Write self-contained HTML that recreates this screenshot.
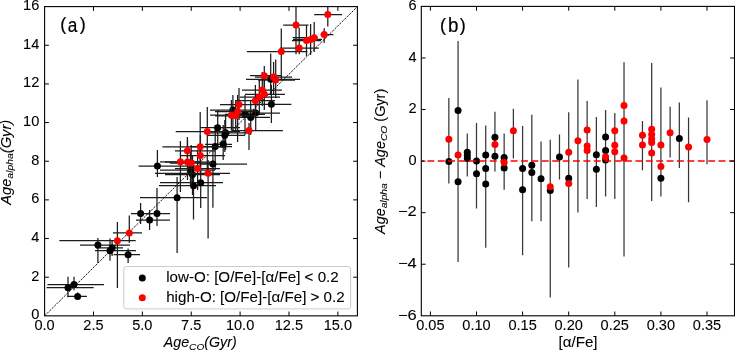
<!DOCTYPE html>
<html><head><meta charset="utf-8"><title>Age comparison</title>
<style>
html,body{margin:0;padding:0;background:#fff;}
body{width:735px;height:350px;overflow:hidden;}
svg{display:block;font-family:"Liberation Sans",sans-serif;will-change:transform;}
text{fill:#000;stroke:#000;stroke-width:0.08px;}
</style></head><body>
<svg width="735" height="350" viewBox="0 0 735 350">
<defs>
<clipPath id="cl"><rect x="44.6" y="6.6" width="312.8" height="309.25"/></clipPath>
<clipPath id="cr"><rect x="421.3" y="6.4" width="313.2" height="309.4"/></clipPath>
</defs>
<rect width="735" height="350" fill="#fff"/>
<g clip-path="url(#cl)">
<line x1="44.6" y1="315.85" x2="357.4" y2="6.6" stroke="#1a1a1a" stroke-width="1.0" stroke-dasharray="2.3 1.1"/>
<line x1="46.6" y1="287.7" x2="93.7" y2="287.7" stroke="#1c1c1c" stroke-width="1.25"/>
<line x1="68" y1="276.8" x2="68" y2="297.3" stroke="#1c1c1c" stroke-width="1.25"/>
<line x1="47.4" y1="284.6" x2="104" y2="284.6" stroke="#1c1c1c" stroke-width="1.25"/>
<line x1="74" y1="276.8" x2="74" y2="290.2" stroke="#1c1c1c" stroke-width="1.25"/>
<line x1="67.2" y1="296.4" x2="86.9" y2="296.4" stroke="#1c1c1c" stroke-width="1.25"/>
<line x1="77.6" y1="292.5" x2="77.6" y2="299" stroke="#1c1c1c" stroke-width="1.25"/>
<line x1="80" y1="245" x2="130" y2="245" stroke="#1c1c1c" stroke-width="1.25"/>
<line x1="97.9" y1="237.9" x2="97.9" y2="262.9" stroke="#1c1c1c" stroke-width="1.25"/>
<line x1="95" y1="250.7" x2="136" y2="250.7" stroke="#1c1c1c" stroke-width="1.25"/>
<line x1="110" y1="238.6" x2="110" y2="260.7" stroke="#1c1c1c" stroke-width="1.25"/>
<line x1="96" y1="247.9" x2="123" y2="247.9" stroke="#1c1c1c" stroke-width="1.25"/>
<line x1="112.1" y1="240" x2="112.1" y2="256" stroke="#1c1c1c" stroke-width="1.25"/>
<line x1="113.6" y1="254.7" x2="140" y2="254.7" stroke="#1c1c1c" stroke-width="1.25"/>
<line x1="128.1" y1="248.6" x2="128.1" y2="262.9" stroke="#1c1c1c" stroke-width="1.25"/>
<line x1="131" y1="213.6" x2="152" y2="213.6" stroke="#1c1c1c" stroke-width="1.25"/>
<line x1="140.6" y1="203" x2="140.6" y2="224" stroke="#1c1c1c" stroke-width="1.25"/>
<line x1="146" y1="213.6" x2="170" y2="213.6" stroke="#1c1c1c" stroke-width="1.25"/>
<line x1="157" y1="188" x2="157" y2="226" stroke="#1c1c1c" stroke-width="1.25"/>
<line x1="136" y1="220" x2="170" y2="220" stroke="#1c1c1c" stroke-width="1.25"/>
<line x1="149.6" y1="210" x2="149.6" y2="230" stroke="#1c1c1c" stroke-width="1.25"/>
<line x1="138.6" y1="166" x2="201" y2="166" stroke="#1c1c1c" stroke-width="1.25"/>
<line x1="157.4" y1="150" x2="157.4" y2="177" stroke="#1c1c1c" stroke-width="1.25"/>
<line x1="140" y1="197.7" x2="207" y2="197.7" stroke="#1c1c1c" stroke-width="1.25"/>
<line x1="177.1" y1="177" x2="177.1" y2="252.9" stroke="#1c1c1c" stroke-width="1.25"/>
<line x1="160" y1="170" x2="215" y2="170" stroke="#1c1c1c" stroke-width="1.25"/>
<line x1="190.5" y1="150" x2="190.5" y2="185" stroke="#1c1c1c" stroke-width="1.25"/>
<line x1="165" y1="174.5" x2="220" y2="174.5" stroke="#1c1c1c" stroke-width="1.25"/>
<line x1="192.5" y1="155" x2="192.5" y2="195" stroke="#1c1c1c" stroke-width="1.25"/>
<line x1="160" y1="182.7" x2="223" y2="182.7" stroke="#1c1c1c" stroke-width="1.25"/>
<line x1="200.7" y1="160" x2="200.7" y2="208" stroke="#1c1c1c" stroke-width="1.25"/>
<line x1="159" y1="185.7" x2="216" y2="185.7" stroke="#1c1c1c" stroke-width="1.25"/>
<line x1="193.5" y1="160" x2="193.5" y2="219.4" stroke="#1c1c1c" stroke-width="1.25"/>
<line x1="200" y1="164.1" x2="247" y2="164.1" stroke="#1c1c1c" stroke-width="1.25"/>
<line x1="212.9" y1="145" x2="212.9" y2="207.7" stroke="#1c1c1c" stroke-width="1.25"/>
<line x1="190" y1="146.6" x2="232" y2="146.6" stroke="#1c1c1c" stroke-width="1.25"/>
<line x1="215.2" y1="125" x2="215.2" y2="170" stroke="#1c1c1c" stroke-width="1.25"/>
<line x1="200" y1="127.7" x2="240" y2="127.7" stroke="#1c1c1c" stroke-width="1.25"/>
<line x1="217.7" y1="110" x2="217.7" y2="145" stroke="#1c1c1c" stroke-width="1.25"/>
<line x1="205" y1="132.8" x2="250" y2="132.8" stroke="#1c1c1c" stroke-width="1.25"/>
<line x1="225.6" y1="115" x2="225.6" y2="150" stroke="#1c1c1c" stroke-width="1.25"/>
<line x1="208" y1="135.3" x2="245" y2="135.3" stroke="#1c1c1c" stroke-width="1.25"/>
<line x1="224.8" y1="120" x2="224.8" y2="152" stroke="#1c1c1c" stroke-width="1.25"/>
<line x1="205" y1="144.3" x2="232" y2="144.3" stroke="#1c1c1c" stroke-width="1.25"/>
<line x1="223.2" y1="125" x2="223.2" y2="160" stroke="#1c1c1c" stroke-width="1.25"/>
<line x1="210" y1="110" x2="255" y2="110" stroke="#1c1c1c" stroke-width="1.25"/>
<line x1="232.9" y1="95" x2="232.9" y2="130" stroke="#1c1c1c" stroke-width="1.25"/>
<line x1="225" y1="114.3" x2="265" y2="114.3" stroke="#1c1c1c" stroke-width="1.25"/>
<line x1="245" y1="95" x2="245" y2="135" stroke="#1c1c1c" stroke-width="1.25"/>
<line x1="230" y1="117.4" x2="270" y2="117.4" stroke="#1c1c1c" stroke-width="1.25"/>
<line x1="250.7" y1="100" x2="250.7" y2="135" stroke="#1c1c1c" stroke-width="1.25"/>
<line x1="235" y1="113.1" x2="280" y2="113.1" stroke="#1c1c1c" stroke-width="1.25"/>
<line x1="255.7" y1="95" x2="255.7" y2="130" stroke="#1c1c1c" stroke-width="1.25"/>
<line x1="254.3" y1="104.3" x2="291.4" y2="104.3" stroke="#1c1c1c" stroke-width="1.25"/>
<line x1="271.4" y1="85" x2="271.4" y2="122.9" stroke="#1c1c1c" stroke-width="1.25"/>
<line x1="246" y1="79.3" x2="300" y2="79.3" stroke="#1c1c1c" stroke-width="1.25"/>
<line x1="270.7" y1="53.4" x2="270.7" y2="95" stroke="#1c1c1c" stroke-width="1.25"/>
<circle cx="68" cy="287.7" r="3.5" fill="#000"/>
<circle cx="74" cy="284.6" r="3.5" fill="#000"/>
<circle cx="77.6" cy="296.4" r="3.5" fill="#000"/>
<circle cx="97.9" cy="245" r="3.5" fill="#000"/>
<circle cx="110" cy="250.7" r="3.5" fill="#000"/>
<circle cx="112.1" cy="247.9" r="3.5" fill="#000"/>
<circle cx="128.1" cy="254.7" r="3.5" fill="#000"/>
<circle cx="140.6" cy="213.6" r="3.5" fill="#000"/>
<circle cx="157" cy="213.6" r="3.5" fill="#000"/>
<circle cx="149.6" cy="220" r="3.5" fill="#000"/>
<circle cx="157.4" cy="166" r="3.5" fill="#000"/>
<circle cx="177.1" cy="197.7" r="3.5" fill="#000"/>
<circle cx="190.5" cy="170" r="3.5" fill="#000"/>
<circle cx="192.5" cy="174.5" r="3.5" fill="#000"/>
<circle cx="200.7" cy="182.7" r="3.5" fill="#000"/>
<circle cx="193.5" cy="185.7" r="3.5" fill="#000"/>
<circle cx="212.9" cy="164.1" r="3.5" fill="#000"/>
<circle cx="215.2" cy="146.6" r="3.5" fill="#000"/>
<circle cx="217.7" cy="127.7" r="3.5" fill="#000"/>
<circle cx="225.6" cy="132.8" r="3.5" fill="#000"/>
<circle cx="224.8" cy="135.3" r="3.5" fill="#000"/>
<circle cx="223.2" cy="144.3" r="3.5" fill="#000"/>
<circle cx="232.9" cy="110" r="3.5" fill="#000"/>
<circle cx="245" cy="114.3" r="3.5" fill="#000"/>
<circle cx="250.7" cy="117.4" r="3.5" fill="#000"/>
<circle cx="255.7" cy="113.1" r="3.5" fill="#000"/>
<circle cx="271.4" cy="104.3" r="3.5" fill="#000"/>
<circle cx="270.7" cy="79.3" r="3.5" fill="#000"/>
<line x1="59.4" y1="240.7" x2="135.7" y2="240.7" stroke="#1c1c1c" stroke-width="1.25"/>
<line x1="117.4" y1="222" x2="117.4" y2="288" stroke="#1c1c1c" stroke-width="1.25"/>
<line x1="112.9" y1="232.9" x2="142" y2="232.9" stroke="#1c1c1c" stroke-width="1.25"/>
<line x1="129.3" y1="215.6" x2="129.3" y2="242.9" stroke="#1c1c1c" stroke-width="1.25"/>
<line x1="160" y1="161.8" x2="200" y2="161.8" stroke="#1c1c1c" stroke-width="1.25"/>
<line x1="180.4" y1="141" x2="180.4" y2="192" stroke="#1c1c1c" stroke-width="1.25"/>
<line x1="165" y1="162" x2="210" y2="162" stroke="#1c1c1c" stroke-width="1.25"/>
<line x1="187.5" y1="140" x2="187.5" y2="180" stroke="#1c1c1c" stroke-width="1.25"/>
<line x1="170" y1="163" x2="215" y2="163" stroke="#1c1c1c" stroke-width="1.25"/>
<line x1="191.2" y1="145" x2="191.2" y2="185" stroke="#1c1c1c" stroke-width="1.25"/>
<line x1="175" y1="150.8" x2="215" y2="150.8" stroke="#1c1c1c" stroke-width="1.25"/>
<line x1="187.4" y1="137" x2="187.4" y2="165" stroke="#1c1c1c" stroke-width="1.25"/>
<line x1="162.4" y1="146.8" x2="225" y2="146.8" stroke="#1c1c1c" stroke-width="1.25"/>
<line x1="200.2" y1="112" x2="200.2" y2="165" stroke="#1c1c1c" stroke-width="1.25"/>
<line x1="180" y1="155.6" x2="225" y2="155.6" stroke="#1c1c1c" stroke-width="1.25"/>
<line x1="200.4" y1="135" x2="200.4" y2="175" stroke="#1c1c1c" stroke-width="1.25"/>
<line x1="175" y1="168.6" x2="220" y2="168.6" stroke="#1c1c1c" stroke-width="1.25"/>
<line x1="197.6" y1="150" x2="197.6" y2="190" stroke="#1c1c1c" stroke-width="1.25"/>
<line x1="155" y1="173.3" x2="230" y2="173.3" stroke="#1c1c1c" stroke-width="1.25"/>
<line x1="208.1" y1="160" x2="208.1" y2="238.6" stroke="#1c1c1c" stroke-width="1.25"/>
<line x1="175.7" y1="131.5" x2="240" y2="131.5" stroke="#1c1c1c" stroke-width="1.25"/>
<line x1="207.3" y1="107" x2="207.3" y2="174" stroke="#1c1c1c" stroke-width="1.25"/>
<line x1="231.4" y1="130.5" x2="282.9" y2="130.5" stroke="#1c1c1c" stroke-width="1.25"/>
<line x1="249" y1="122.9" x2="249" y2="150" stroke="#1c1c1c" stroke-width="1.25"/>
<line x1="210" y1="115.2" x2="250" y2="115.2" stroke="#1c1c1c" stroke-width="1.25"/>
<line x1="231.4" y1="100" x2="231.4" y2="130" stroke="#1c1c1c" stroke-width="1.25"/>
<line x1="215" y1="115.8" x2="255" y2="115.8" stroke="#1c1c1c" stroke-width="1.25"/>
<line x1="235.7" y1="100" x2="235.7" y2="132" stroke="#1c1c1c" stroke-width="1.25"/>
<line x1="215" y1="111.5" x2="260" y2="111.5" stroke="#1c1c1c" stroke-width="1.25"/>
<line x1="237.6" y1="95" x2="237.6" y2="142" stroke="#1c1c1c" stroke-width="1.25"/>
<line x1="220" y1="104.5" x2="260" y2="104.5" stroke="#1c1c1c" stroke-width="1.25"/>
<line x1="239" y1="88" x2="239" y2="120" stroke="#1c1c1c" stroke-width="1.25"/>
<line x1="235" y1="100.7" x2="275" y2="100.7" stroke="#1c1c1c" stroke-width="1.25"/>
<line x1="255.4" y1="85" x2="255.4" y2="117" stroke="#1c1c1c" stroke-width="1.25"/>
<line x1="240" y1="97.1" x2="280" y2="97.1" stroke="#1c1c1c" stroke-width="1.25"/>
<line x1="259.3" y1="80" x2="259.3" y2="115" stroke="#1c1c1c" stroke-width="1.25"/>
<line x1="245" y1="94.3" x2="285" y2="94.3" stroke="#1c1c1c" stroke-width="1.25"/>
<line x1="264.3" y1="78" x2="264.3" y2="110" stroke="#1c1c1c" stroke-width="1.25"/>
<line x1="242" y1="90" x2="282" y2="90" stroke="#1c1c1c" stroke-width="1.25"/>
<line x1="262.3" y1="72" x2="262.3" y2="106" stroke="#1c1c1c" stroke-width="1.25"/>
<line x1="250" y1="75.7" x2="282" y2="75.7" stroke="#1c1c1c" stroke-width="1.25"/>
<line x1="264.3" y1="66" x2="264.3" y2="92" stroke="#1c1c1c" stroke-width="1.25"/>
<line x1="255" y1="77.1" x2="292" y2="77.1" stroke="#1c1c1c" stroke-width="1.25"/>
<line x1="273.6" y1="62" x2="273.6" y2="95" stroke="#1c1c1c" stroke-width="1.25"/>
<line x1="258" y1="80" x2="295" y2="80" stroke="#1c1c1c" stroke-width="1.25"/>
<line x1="275.7" y1="59.4" x2="275.7" y2="98" stroke="#1c1c1c" stroke-width="1.25"/>
<line x1="246.9" y1="51.6" x2="307.4" y2="51.6" stroke="#1c1c1c" stroke-width="1.25"/>
<line x1="281.3" y1="28.6" x2="281.3" y2="80" stroke="#1c1c1c" stroke-width="1.25"/>
<line x1="283.2" y1="25.1" x2="308.5" y2="25.1" stroke="#1c1c1c" stroke-width="1.25"/>
<line x1="296" y1="6.8" x2="296" y2="54.2" stroke="#1c1c1c" stroke-width="1.25"/>
<line x1="280" y1="48" x2="318.8" y2="48" stroke="#1c1c1c" stroke-width="1.25"/>
<line x1="299.2" y1="27.4" x2="299.2" y2="54.2" stroke="#1c1c1c" stroke-width="1.25"/>
<line x1="292" y1="40.5" x2="321" y2="40.5" stroke="#1c1c1c" stroke-width="1.25"/>
<line x1="306.5" y1="25" x2="306.5" y2="56" stroke="#1c1c1c" stroke-width="1.25"/>
<line x1="293" y1="39.4" x2="322" y2="39.4" stroke="#1c1c1c" stroke-width="1.25"/>
<line x1="310.6" y1="24" x2="310.6" y2="55" stroke="#1c1c1c" stroke-width="1.25"/>
<line x1="292.6" y1="37.7" x2="317.7" y2="37.7" stroke="#1c1c1c" stroke-width="1.25"/>
<line x1="314.2" y1="22" x2="314.2" y2="52" stroke="#1c1c1c" stroke-width="1.25"/>
<line x1="320.6" y1="34.6" x2="333.4" y2="34.6" stroke="#1c1c1c" stroke-width="1.25"/>
<line x1="324.2" y1="28.3" x2="324.2" y2="42.9" stroke="#1c1c1c" stroke-width="1.25"/>
<line x1="314.2" y1="14.6" x2="342" y2="14.6" stroke="#1c1c1c" stroke-width="1.25"/>
<line x1="327.8" y1="6.8" x2="327.8" y2="26.6" stroke="#1c1c1c" stroke-width="1.25"/>
<circle cx="117.4" cy="240.7" r="3.5" fill="#ff0000"/>
<circle cx="129.3" cy="232.9" r="3.5" fill="#ff0000"/>
<circle cx="180.4" cy="161.8" r="3.5" fill="#ff0000"/>
<circle cx="187.5" cy="162" r="3.5" fill="#ff0000"/>
<circle cx="191.2" cy="163" r="3.5" fill="#ff0000"/>
<circle cx="187.4" cy="150.8" r="3.5" fill="#ff0000"/>
<circle cx="200.2" cy="146.8" r="3.5" fill="#ff0000"/>
<circle cx="200.4" cy="155.6" r="3.5" fill="#ff0000"/>
<circle cx="197.6" cy="168.6" r="3.5" fill="#ff0000"/>
<circle cx="208.1" cy="173.3" r="3.5" fill="#ff0000"/>
<circle cx="207.3" cy="131.5" r="3.5" fill="#ff0000"/>
<circle cx="249" cy="130.5" r="3.5" fill="#ff0000"/>
<circle cx="231.4" cy="115.2" r="3.5" fill="#ff0000"/>
<circle cx="235.7" cy="115.8" r="3.5" fill="#ff0000"/>
<circle cx="237.6" cy="111.5" r="3.5" fill="#ff0000"/>
<circle cx="239" cy="104.5" r="3.5" fill="#ff0000"/>
<circle cx="255.4" cy="100.7" r="3.5" fill="#ff0000"/>
<circle cx="259.3" cy="97.1" r="3.5" fill="#ff0000"/>
<circle cx="264.3" cy="94.3" r="3.5" fill="#ff0000"/>
<circle cx="262.3" cy="90" r="3.5" fill="#ff0000"/>
<circle cx="264.3" cy="75.7" r="3.5" fill="#ff0000"/>
<circle cx="273.6" cy="77.1" r="3.5" fill="#ff0000"/>
<circle cx="275.7" cy="80" r="3.5" fill="#ff0000"/>
<circle cx="281.3" cy="51.6" r="3.5" fill="#ff0000"/>
<circle cx="296" cy="25.1" r="3.5" fill="#ff0000"/>
<circle cx="299.2" cy="48" r="3.5" fill="#ff0000"/>
<circle cx="306.5" cy="40.5" r="3.5" fill="#ff0000"/>
<circle cx="310.6" cy="39.4" r="3.5" fill="#ff0000"/>
<circle cx="314.2" cy="37.7" r="3.5" fill="#ff0000"/>
<circle cx="324.2" cy="34.6" r="3.5" fill="#ff0000"/>
<circle cx="327.8" cy="14.6" r="3.5" fill="#ff0000"/>
</g>
<g clip-path="url(#cr)">
<line x1="448.84" y1="98" x2="448.84" y2="183.5" stroke="#383838" stroke-width="1.25"/>
<line x1="458.06" y1="41.1" x2="458.06" y2="262" stroke="#383838" stroke-width="1.25"/>
<line x1="467.28" y1="133.4" x2="467.28" y2="176.5" stroke="#383838" stroke-width="1.25"/>
<line x1="476.5" y1="123.1" x2="476.5" y2="208.5" stroke="#383838" stroke-width="1.25"/>
<line x1="485.72" y1="125.4" x2="485.72" y2="247.7" stroke="#383838" stroke-width="1.25"/>
<line x1="494.94" y1="111.7" x2="494.94" y2="171.4" stroke="#383838" stroke-width="1.25"/>
<line x1="504.16" y1="133.4" x2="504.16" y2="189.7" stroke="#383838" stroke-width="1.25"/>
<line x1="513.38" y1="108.7" x2="513.38" y2="158.6" stroke="#383838" stroke-width="1.25"/>
<line x1="522.6" y1="126.1" x2="522.6" y2="255.3" stroke="#383838" stroke-width="1.25"/>
<line x1="531.82" y1="114.7" x2="531.82" y2="221.3" stroke="#383838" stroke-width="1.25"/>
<line x1="541.04" y1="141.4" x2="541.04" y2="221.3" stroke="#383838" stroke-width="1.25"/>
<line x1="550.26" y1="139.8" x2="550.26" y2="297.6" stroke="#383838" stroke-width="1.25"/>
<line x1="559.48" y1="134.6" x2="559.48" y2="179.4" stroke="#383838" stroke-width="1.25"/>
<line x1="568.7" y1="112.2" x2="568.7" y2="267.6" stroke="#383838" stroke-width="1.25"/>
<line x1="577.92" y1="79.4" x2="577.92" y2="212.6" stroke="#383838" stroke-width="1.25"/>
<line x1="587.14" y1="101" x2="587.14" y2="198.9" stroke="#383838" stroke-width="1.25"/>
<line x1="596.36" y1="117" x2="596.36" y2="206.9" stroke="#383838" stroke-width="1.25"/>
<line x1="605.58" y1="110.1" x2="605.58" y2="196.6" stroke="#383838" stroke-width="1.25"/>
<line x1="614.8" y1="112.9" x2="614.8" y2="198.9" stroke="#383838" stroke-width="1.25"/>
<line x1="624.02" y1="62.3" x2="624.02" y2="256.5" stroke="#383838" stroke-width="1.25"/>
<line x1="642.46" y1="120.9" x2="642.46" y2="170.3" stroke="#383838" stroke-width="1.25"/>
<line x1="651.68" y1="63" x2="651.68" y2="201.1" stroke="#383838" stroke-width="1.25"/>
<line x1="660.9" y1="87.4" x2="660.9" y2="196.6" stroke="#383838" stroke-width="1.25"/>
<line x1="670.12" y1="106.7" x2="670.12" y2="157.4" stroke="#383838" stroke-width="1.25"/>
<line x1="679.34" y1="102.6" x2="679.34" y2="168" stroke="#383838" stroke-width="1.25"/>
<line x1="688.56" y1="117.4" x2="688.56" y2="202.3" stroke="#383838" stroke-width="1.25"/>
<line x1="707" y1="100.3" x2="707" y2="164.3" stroke="#383838" stroke-width="1.25"/>
<circle cx="448.84" cy="161.5" r="3.5" fill="#000"/>
<circle cx="458.06" cy="110.6" r="3.5" fill="#000"/>
<circle cx="458.06" cy="181.7" r="3.5" fill="#000"/>
<circle cx="467.28" cy="152.2" r="3.5" fill="#000"/>
<circle cx="467.28" cy="155.4" r="3.5" fill="#000"/>
<circle cx="467.28" cy="158.6" r="3.5" fill="#000"/>
<circle cx="476.5" cy="160.9" r="3.5" fill="#000"/>
<circle cx="476.5" cy="173.7" r="3.5" fill="#000"/>
<circle cx="485.72" cy="155.1" r="3.5" fill="#000"/>
<circle cx="485.72" cy="168.5" r="3.5" fill="#000"/>
<circle cx="485.72" cy="184" r="3.5" fill="#000"/>
<circle cx="494.94" cy="137.3" r="3.5" fill="#000"/>
<circle cx="494.94" cy="156.3" r="3.5" fill="#000"/>
<circle cx="504.16" cy="157.4" r="3.5" fill="#000"/>
<circle cx="504.16" cy="168" r="3.5" fill="#000"/>
<circle cx="522.6" cy="168.5" r="3.5" fill="#000"/>
<circle cx="522.6" cy="189.7" r="3.5" fill="#000"/>
<circle cx="531.82" cy="165.2" r="3.5" fill="#000"/>
<circle cx="531.82" cy="172.6" r="3.5" fill="#000"/>
<circle cx="541.04" cy="178.7" r="3.5" fill="#000"/>
<circle cx="550.26" cy="190.4" r="3.5" fill="#000"/>
<circle cx="559.48" cy="157" r="3.5" fill="#000"/>
<circle cx="568.7" cy="178.3" r="3.5" fill="#000"/>
<circle cx="596.36" cy="154.7" r="3.5" fill="#000"/>
<circle cx="596.36" cy="169.3" r="3.5" fill="#000"/>
<circle cx="605.58" cy="136.9" r="3.5" fill="#000"/>
<circle cx="605.58" cy="150.6" r="3.5" fill="#000"/>
<circle cx="605.58" cy="160" r="3.5" fill="#000"/>
<circle cx="660.9" cy="178.3" r="3.5" fill="#000"/>
<circle cx="679.34" cy="138.5" r="3.5" fill="#000"/>
<circle cx="448.84" cy="139.2" r="3.5" fill="#ff0000"/>
<circle cx="458.06" cy="155.1" r="3.5" fill="#ff0000"/>
<circle cx="494.94" cy="144.4" r="3.5" fill="#ff0000"/>
<circle cx="504.16" cy="162.5" r="3.5" fill="#ff0000"/>
<circle cx="513.38" cy="130.7" r="3.5" fill="#ff0000"/>
<circle cx="550.26" cy="186.7" r="3.5" fill="#ff0000"/>
<circle cx="568.7" cy="152.2" r="3.5" fill="#ff0000"/>
<circle cx="568.7" cy="183.5" r="3.5" fill="#ff0000"/>
<circle cx="577.92" cy="140.7" r="3.5" fill="#ff0000"/>
<circle cx="587.14" cy="130" r="3.5" fill="#ff0000"/>
<circle cx="587.14" cy="146" r="3.5" fill="#ff0000"/>
<circle cx="587.14" cy="150.6" r="3.5" fill="#ff0000"/>
<circle cx="605.58" cy="156.7" r="3.5" fill="#ff0000"/>
<circle cx="614.8" cy="130.7" r="3.5" fill="#ff0000"/>
<circle cx="614.8" cy="145.3" r="3.5" fill="#ff0000"/>
<circle cx="614.8" cy="151.7" r="3.5" fill="#ff0000"/>
<circle cx="624.02" cy="105.5" r="3.5" fill="#ff0000"/>
<circle cx="624.02" cy="120.9" r="3.5" fill="#ff0000"/>
<circle cx="624.02" cy="157.9" r="3.5" fill="#ff0000"/>
<circle cx="642.46" cy="135.3" r="3.5" fill="#ff0000"/>
<circle cx="642.46" cy="144.9" r="3.5" fill="#ff0000"/>
<circle cx="651.68" cy="129.3" r="3.5" fill="#ff0000"/>
<circle cx="651.68" cy="134.6" r="3.5" fill="#ff0000"/>
<circle cx="651.68" cy="139.1" r="3.5" fill="#ff0000"/>
<circle cx="651.68" cy="142.6" r="3.5" fill="#ff0000"/>
<circle cx="651.68" cy="152.9" r="3.5" fill="#ff0000"/>
<circle cx="660.9" cy="144.9" r="3.5" fill="#ff0000"/>
<circle cx="660.9" cy="166.5" r="3.5" fill="#ff0000"/>
<circle cx="670.12" cy="132.7" r="3.5" fill="#ff0000"/>
<circle cx="688.56" cy="147.1" r="3.5" fill="#ff0000"/>
<circle cx="707" cy="139.6" r="3.5" fill="#ff0000"/>
<line x1="421.3" y1="161" x2="734.5" y2="161" stroke="#ff0000" stroke-width="1.7" stroke-dasharray="6.9 3.5" stroke-dashoffset="4.3"/>
</g>
<rect x="123.8" y="266.5" width="226.8" height="42.4" rx="2.5" fill="#fff" fill-opacity="0.8" stroke="#cccccc" stroke-width="1"/>
<circle cx="142.3" cy="278" r="3.5" fill="#000"/>
<circle cx="142.3" cy="297.7" r="3.5" fill="#ff0000"/>
<rect x="44.6" y="6.6" width="312.8" height="309.25" fill="none" stroke="#000" stroke-width="1.1"/>
<rect x="421.3" y="6.4" width="313.2" height="309.4" fill="none" stroke="#000" stroke-width="1.1"/>
<line x1="93.47" y1="315.85" x2="93.47" y2="311.55" stroke="#000" stroke-width="1"/>
<line x1="93.47" y1="6.6" x2="93.47" y2="10.9" stroke="#000" stroke-width="1"/>
<line x1="142.35" y1="315.85" x2="142.35" y2="311.55" stroke="#000" stroke-width="1"/>
<line x1="142.35" y1="6.6" x2="142.35" y2="10.9" stroke="#000" stroke-width="1"/>
<line x1="191.22" y1="315.85" x2="191.22" y2="311.55" stroke="#000" stroke-width="1"/>
<line x1="191.22" y1="6.6" x2="191.22" y2="10.9" stroke="#000" stroke-width="1"/>
<line x1="240.1" y1="315.85" x2="240.1" y2="311.55" stroke="#000" stroke-width="1"/>
<line x1="240.1" y1="6.6" x2="240.1" y2="10.9" stroke="#000" stroke-width="1"/>
<line x1="288.97" y1="315.85" x2="288.97" y2="311.55" stroke="#000" stroke-width="1"/>
<line x1="288.97" y1="6.6" x2="288.97" y2="10.9" stroke="#000" stroke-width="1"/>
<line x1="337.85" y1="315.85" x2="337.85" y2="311.55" stroke="#000" stroke-width="1"/>
<line x1="337.85" y1="6.6" x2="337.85" y2="10.9" stroke="#000" stroke-width="1"/>
<line x1="44.6" y1="277.19" x2="48.9" y2="277.19" stroke="#000" stroke-width="1"/>
<line x1="357.4" y1="277.19" x2="353.1" y2="277.19" stroke="#000" stroke-width="1"/>
<line x1="44.6" y1="238.54" x2="48.9" y2="238.54" stroke="#000" stroke-width="1"/>
<line x1="357.4" y1="238.54" x2="353.1" y2="238.54" stroke="#000" stroke-width="1"/>
<line x1="44.6" y1="199.88" x2="48.9" y2="199.88" stroke="#000" stroke-width="1"/>
<line x1="357.4" y1="199.88" x2="353.1" y2="199.88" stroke="#000" stroke-width="1"/>
<line x1="44.6" y1="161.23" x2="48.9" y2="161.23" stroke="#000" stroke-width="1"/>
<line x1="357.4" y1="161.23" x2="353.1" y2="161.23" stroke="#000" stroke-width="1"/>
<line x1="44.6" y1="122.57" x2="48.9" y2="122.57" stroke="#000" stroke-width="1"/>
<line x1="357.4" y1="122.57" x2="353.1" y2="122.57" stroke="#000" stroke-width="1"/>
<line x1="44.6" y1="83.91" x2="48.9" y2="83.91" stroke="#000" stroke-width="1"/>
<line x1="357.4" y1="83.91" x2="353.1" y2="83.91" stroke="#000" stroke-width="1"/>
<line x1="44.6" y1="45.26" x2="48.9" y2="45.26" stroke="#000" stroke-width="1"/>
<line x1="357.4" y1="45.26" x2="353.1" y2="45.26" stroke="#000" stroke-width="1"/>
<line x1="430.4" y1="315.8" x2="430.4" y2="311.5" stroke="#000" stroke-width="1"/>
<line x1="430.4" y1="6.4" x2="430.4" y2="10.7" stroke="#000" stroke-width="1"/>
<line x1="476.5" y1="315.8" x2="476.5" y2="311.5" stroke="#000" stroke-width="1"/>
<line x1="476.5" y1="6.4" x2="476.5" y2="10.7" stroke="#000" stroke-width="1"/>
<line x1="522.6" y1="315.8" x2="522.6" y2="311.5" stroke="#000" stroke-width="1"/>
<line x1="522.6" y1="6.4" x2="522.6" y2="10.7" stroke="#000" stroke-width="1"/>
<line x1="568.7" y1="315.8" x2="568.7" y2="311.5" stroke="#000" stroke-width="1"/>
<line x1="568.7" y1="6.4" x2="568.7" y2="10.7" stroke="#000" stroke-width="1"/>
<line x1="614.8" y1="315.8" x2="614.8" y2="311.5" stroke="#000" stroke-width="1"/>
<line x1="614.8" y1="6.4" x2="614.8" y2="10.7" stroke="#000" stroke-width="1"/>
<line x1="660.9" y1="315.8" x2="660.9" y2="311.5" stroke="#000" stroke-width="1"/>
<line x1="660.9" y1="6.4" x2="660.9" y2="10.7" stroke="#000" stroke-width="1"/>
<line x1="707" y1="315.8" x2="707" y2="311.5" stroke="#000" stroke-width="1"/>
<line x1="707" y1="6.4" x2="707" y2="10.7" stroke="#000" stroke-width="1"/>
<line x1="421.3" y1="264.23" x2="425.6" y2="264.23" stroke="#000" stroke-width="1"/>
<line x1="734.5" y1="264.23" x2="730.2" y2="264.23" stroke="#000" stroke-width="1"/>
<line x1="421.3" y1="212.67" x2="425.6" y2="212.67" stroke="#000" stroke-width="1"/>
<line x1="734.5" y1="212.67" x2="730.2" y2="212.67" stroke="#000" stroke-width="1"/>
<line x1="421.3" y1="161.1" x2="425.6" y2="161.1" stroke="#000" stroke-width="1"/>
<line x1="734.5" y1="161.1" x2="730.2" y2="161.1" stroke="#000" stroke-width="1"/>
<line x1="421.3" y1="109.53" x2="425.6" y2="109.53" stroke="#000" stroke-width="1"/>
<line x1="734.5" y1="109.53" x2="730.2" y2="109.53" stroke="#000" stroke-width="1"/>
<line x1="421.3" y1="57.97" x2="425.6" y2="57.97" stroke="#000" stroke-width="1"/>
<line x1="734.5" y1="57.97" x2="730.2" y2="57.97" stroke="#000" stroke-width="1"/>
<text x="44.6" y="330.4" text-anchor="middle" font-size="14.2" textLength="20.27" lengthAdjust="spacingAndGlyphs">0.0</text>
<text x="93.47" y="330.4" text-anchor="middle" font-size="14.2" textLength="20.27" lengthAdjust="spacingAndGlyphs">2.5</text>
<text x="142.35" y="330.4" text-anchor="middle" font-size="14.2" textLength="20.27" lengthAdjust="spacingAndGlyphs">5.0</text>
<text x="191.22" y="330.4" text-anchor="middle" font-size="14.2" textLength="20.27" lengthAdjust="spacingAndGlyphs">7.5</text>
<text x="240.1" y="330.4" text-anchor="middle" font-size="14.2" textLength="28.38" lengthAdjust="spacingAndGlyphs">10.0</text>
<text x="288.97" y="330.4" text-anchor="middle" font-size="14.2" textLength="28.38" lengthAdjust="spacingAndGlyphs">12.5</text>
<text x="337.85" y="330.4" text-anchor="middle" font-size="14.2" textLength="28.38" lengthAdjust="spacingAndGlyphs">15.0</text>
<text x="39.3" y="319.25" text-anchor="end" font-size="14.2" textLength="8.11" lengthAdjust="spacingAndGlyphs">0</text>
<text x="39.3" y="280.59" text-anchor="end" font-size="14.2" textLength="8.11" lengthAdjust="spacingAndGlyphs">2</text>
<text x="39.3" y="241.94" text-anchor="end" font-size="14.2" textLength="8.11" lengthAdjust="spacingAndGlyphs">4</text>
<text x="39.3" y="203.28" text-anchor="end" font-size="14.2" textLength="8.11" lengthAdjust="spacingAndGlyphs">6</text>
<text x="39.3" y="164.63" text-anchor="end" font-size="14.2" textLength="8.11" lengthAdjust="spacingAndGlyphs">8</text>
<text x="39.3" y="125.97" text-anchor="end" font-size="14.2" textLength="16.22" lengthAdjust="spacingAndGlyphs">10</text>
<text x="39.3" y="87.31" text-anchor="end" font-size="14.2" textLength="16.22" lengthAdjust="spacingAndGlyphs">12</text>
<text x="39.3" y="48.66" text-anchor="end" font-size="14.2" textLength="16.22" lengthAdjust="spacingAndGlyphs">14</text>
<text x="39.3" y="10" text-anchor="end" font-size="14.2" textLength="16.22" lengthAdjust="spacingAndGlyphs">16</text>
<text x="430.4" y="330.4" text-anchor="middle" font-size="14.2" textLength="28.38" lengthAdjust="spacingAndGlyphs">0.05</text>
<text x="476.5" y="330.4" text-anchor="middle" font-size="14.2" textLength="28.38" lengthAdjust="spacingAndGlyphs">0.10</text>
<text x="522.6" y="330.4" text-anchor="middle" font-size="14.2" textLength="28.38" lengthAdjust="spacingAndGlyphs">0.15</text>
<text x="568.7" y="330.4" text-anchor="middle" font-size="14.2" textLength="28.38" lengthAdjust="spacingAndGlyphs">0.20</text>
<text x="614.8" y="330.4" text-anchor="middle" font-size="14.2" textLength="28.38" lengthAdjust="spacingAndGlyphs">0.25</text>
<text x="660.9" y="330.4" text-anchor="middle" font-size="14.2" textLength="28.38" lengthAdjust="spacingAndGlyphs">0.30</text>
<text x="707" y="330.4" text-anchor="middle" font-size="14.2" textLength="28.38" lengthAdjust="spacingAndGlyphs">0.35</text>
<text x="416.7" y="319.6" text-anchor="end" font-size="14.2" textLength="18.79" lengthAdjust="spacingAndGlyphs">−6</text>
<text x="416.7" y="268.03" text-anchor="end" font-size="14.2" textLength="18.79" lengthAdjust="spacingAndGlyphs">−4</text>
<text x="416.7" y="216.47" text-anchor="end" font-size="14.2" textLength="18.79" lengthAdjust="spacingAndGlyphs">−2</text>
<text x="416.7" y="164.9" text-anchor="end" font-size="14.2" textLength="8.11" lengthAdjust="spacingAndGlyphs">0</text>
<text x="416.7" y="113.33" text-anchor="end" font-size="14.2" textLength="8.11" lengthAdjust="spacingAndGlyphs">2</text>
<text x="416.7" y="61.77" text-anchor="end" font-size="14.2" textLength="8.11" lengthAdjust="spacingAndGlyphs">4</text>
<text x="416.7" y="10.2" text-anchor="end" font-size="14.2" textLength="8.11" lengthAdjust="spacingAndGlyphs">6</text>
<text x="60.2" y="29.9" text-anchor="start" font-size="18" style="stroke-width:0.2px">(</text>
<text x="67.7" y="32.2" text-anchor="start" font-size="20" textLength="9.6" lengthAdjust="spacingAndGlyphs" style="stroke-width:0.2px">a</text>
<text x="79.7" y="29.9" text-anchor="start" font-size="18" style="stroke-width:0.2px">)</text>
<text x="440" y="30.5" text-anchor="start" font-size="18" style="stroke-width:0.2px">(</text>
<text x="448" y="31.6" text-anchor="start" font-size="20" textLength="10.4" lengthAdjust="spacingAndGlyphs" style="stroke-width:0.2px">b</text>
<text x="459.7" y="30.5" text-anchor="start" font-size="18" style="stroke-width:0.2px">)</text>
<text x="166.2" y="282.2" text-anchor="start" font-size="14.3" textLength="172.5" lengthAdjust="spacingAndGlyphs">low-O: [O/Fe]-[α/Fe] &lt; 0.2</text>
<text x="166.2" y="301.6" text-anchor="start" font-size="14.3" textLength="178.5" lengthAdjust="spacingAndGlyphs">high-O: [O/Fe]-[α/Fe] &gt; 0.2</text>
<text x="163.8" y="347.4" font-size="13.8" font-style="italic" textLength="72.9" lengthAdjust="spacingAndGlyphs">Age<tspan font-size="9.8" dy="2.5">CO</tspan><tspan dy="-2.5">(Gyr)</tspan></text>
<text x="578" y="346.8" text-anchor="middle" font-size="13.8" textLength="39" lengthAdjust="spacingAndGlyphs">[α/Fe]</text>
<text transform="translate(10.8,204.7) rotate(-90)" x="0" y="0" font-size="13.8" font-style="italic" textLength="84.9" lengthAdjust="spacingAndGlyphs">Age<tspan font-size="9.8" dy="2.5">alpha</tspan><tspan dy="-2.5">(Gyr)</tspan></text>
<text transform="translate(384.6,234.0) rotate(-90)" x="0" y="0" font-size="13.8" textLength="145.2" lengthAdjust="spacingAndGlyphs"><tspan font-style="italic">Age</tspan><tspan font-style="italic" font-size="9.8" dy="2.5">alpha</tspan><tspan dy="-2.5"> − </tspan><tspan font-style="italic">Age</tspan><tspan font-style="italic" font-size="9.8" dy="2.5">CO</tspan><tspan dy="-2.5"> (Gyr)</tspan></text>
</svg>
</body></html>
